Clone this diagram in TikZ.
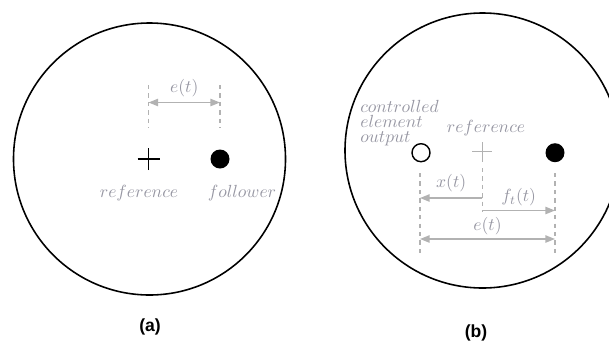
\documentclass[tikz,border=0pt]{standalone}
\usepackage{fontspec}
\newfontfamily\capfont{Liberation Sans}
\usetikzlibrary{arrows.meta}
\definecolor{labelgray}{RGB}{150,150,162}
\definecolor{linegray}{RGB}{178,178,178}
\tikzset{
	gtext/.style={text=labelgray,inner sep=0pt},
	guide/.style={linegray,dash pattern=on 2.4pt off 2.4pt,line width=0.6pt},
	dimline/.style={linegray,line width=0.8pt},
	caption/.style={font=\capfont\bfseries\fontsize{10}{12}\selectfont},
	dot/.style={circle,fill,inner sep=0pt,minimum size=0.38cm},
}
\begin{document}
\begin{tikzpicture}[>={Triangle[length=5.5pt,width=4.2pt]},line join=round,font=\normalsize]
			\useasboundingbox (0,0) rectangle (12.18,-6.86);
			% (a)
			\coordinate (Ca) at (2.99,-3.18);
			\coordinate (Ra) at (2.97,-3.18);
			\draw[line width=0.9pt] (Ca) circle (2.72);
			\draw[line width=0.8pt] (Ra) ++(-0.22,0) -- ++(0.44,0) (Ra) ++(0,-0.22) -- ++(0,0.44);
			\node[dot] (Fa) at (4.40,-3.18) {};
			\draw[guide] (2.97,-1.70) -- (2.97,-2.56);
			\draw[guide] (4.40,-1.70) -- (4.40,-2.56);
			\coordinate (ea1) at (2.97,-2.05);
			\coordinate (ea2) at (4.40,-2.05);
			\draw[dimline,<->] (ea1) -- (ea2) node[gtext,midway,above=3pt] {$e(t)$};
			\node[gtext] (refa) at (2.78,-3.86) {$reference$};
			\node[gtext] (fola) at (4.84,-3.86) {$follower$};
			\node[caption] (capa) at (3.0,-6.54) {(a)};
			% (b)
			\coordinate (Cb) at (9.65,-3.01);
			\coordinate (Rb) at (9.646,-3.034);
			\draw[line width=0.9pt] (Cb) circle (2.75);
			\draw[linegray,line width=0.5pt] (Rb) ++(-0.2,0) -- ++(0.4,0) (Rb) ++(0,-0.2) -- ++(0,0.4);
			\node[circle,draw,line width=0.8pt,inner sep=0pt,minimum size=0.36cm] (Ob) at (8.42,-3.054) {};
			\node[dot] (Fb) at (11.10,-3.054) {};
			\draw[guide] (8.40,-3.46) -- (8.40,-5.06);
			\draw[guide] (9.646,-3.36) -- (9.646,-4.24);
			\draw[guide] (11.10,-3.46) -- (11.10,-5.06);
			\coordinate (xb1) at (9.646,-3.96);
			\coordinate (xb2) at (8.40,-3.96);
			\coordinate (fb1) at (9.646,-4.21);
			\coordinate (fb2) at (11.10,-4.21);
			\coordinate (eb1) at (8.40,-4.78);
			\coordinate (eb2) at (11.10,-4.78);
			\draw[dimline,->] (xb1) -- (xb2) node[gtext,midway,above=3pt] {$x(t)$};
			\draw[dimline,->] (fb1) -- (fb2) node[gtext,midway,above=2pt] {$f_t(t)$};
			\draw[dimline,<->] (eb1) -- (eb2) node[gtext,midway,above=2pt] {$e(t)$};
			\node[gtext] (refb) at (9.72,-2.56) {$reference$};
			\node[gtext,anchor=north west,align=left,font=\fontsize{10}{8.8}\selectfont] (ctrl) at (7.2,-1.99)
				{$controlled$\\$element$\\$output$};
			\node[caption] (capb) at (9.52,-6.66) {(b)};
		\end{tikzpicture}
\end{document}
